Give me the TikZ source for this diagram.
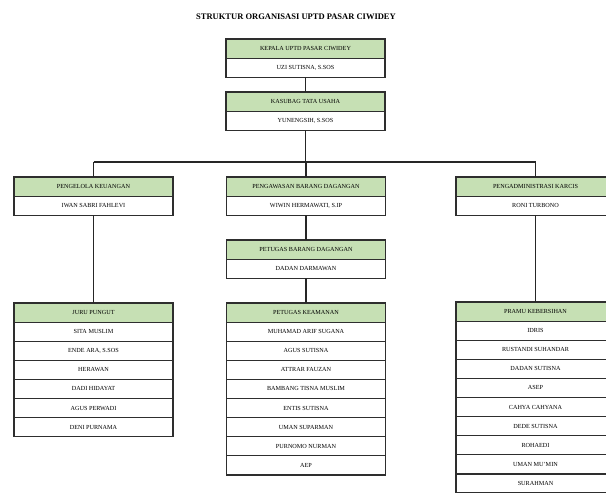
\documentclass[tikz,border=0pt]{standalone}
\usepackage{fontspec}
\setmainfont{Liberation Serif}
\definecolor{hdrgreen}{HTML}{C6E0B4}
\definecolor{edge}{HTML}{2E2E2E}
\begin{document}
\begin{tikzpicture}[x=1pt,y=-1pt,
  row/.style={draw=edge, line width=1.2pt, minimum width=159pt, minimum height=19.1pt,
    inner sep=0pt, outer sep=0pt, anchor=north, font=\fontsize{6.2}{7}\selectfont},
  hdr/.style={row, fill=hdrgreen},
  cell/.style={row, fill=white},
  link/.style={line width=1.5pt, draw=black!85}]
\useasboundingbox (0,0) rectangle (606,493);
\node[font=\fontsize{8.5}{10}\selectfont\bfseries] (title) at (296,17) {STRUKTUR ORGANISASI UPTD PASAR CIWIDEY};
\coordinate (bus) at (303,162);
% top boxes
\node[hdr] (k1) at (305.5,39) {KEPALA UPTD PASAR CIWIDEY};
\node[cell] (k2) at (k1.south) {UZI SUTISNA, S.SOS};
\node[hdr] (t1) at (305.5,92) {KASUBAG TATA USAHA};
\node[cell] (t2) at (t1.south) {YUNENGSIH, S.SOS};
% level 2
\node[hdr] (pk1) at (93.5,177) {PENGELOLA KEUANGAN};
\node[cell] (pk2) at (pk1.south) {IWAN SABRI FAHLEVI};
\node[hdr] (pb1) at (306,177) {PENGAWASAN BARANG DAGANGAN};
\node[cell] (pb2) at (pb1.south) {WIWIN HERMAWATI, S.IP};
\node[hdr] (pa1) at (535.5,177) {PENGADMINISTRASI KARCIS};
\node[cell] (pa2) at (pa1.south) {RONI TURBONO};
\node[hdr] (pd1) at (306,240) {PETUGAS BARANG DAGANGAN};
\node[cell] (pd2) at (pd1.south) {DADAN DARMAWAN};
% bottom left
\node[hdr] (jp0) at (93.5,303) {JURU PUNGUT};
\node[cell] (jp1) at (jp0.south) {SITA MUSLIM};
\node[cell] (jp2) at (jp1.south) {ENDE ARA, S.SOS};
\node[cell] (jp3) at (jp2.south) {HERAWAN};
\node[cell] (jp4) at (jp3.south) {DADI HIDAYAT};
\node[cell] (jp5) at (jp4.south) {AGUS PERWADI};
\node[cell] (jp6) at (jp5.south) {DENI PURNAMA};
% bottom middle
\node[hdr] (pm0) at (306,303) {PETUGAS KEAMANAN};
\node[cell] (pm1) at (pm0.south) {MUHAMAD ARIF SUGANA};
\node[cell] (pm2) at (pm1.south) {AGUS SUTISNA};
\node[cell] (pm3) at (pm2.south) {ATTRAR FAUZAN};
\node[cell] (pm4) at (pm3.south) {BAMBANG TISNA MUSLIM};
\node[cell] (pm5) at (pm4.south) {ENTIS SUTISNA};
\node[cell] (pm6) at (pm5.south) {UMAN SUPARMAN};
\node[cell] (pm7) at (pm6.south) {PURNOMO NURMAN};
\node[cell] (pm8) at (pm7.south) {AEP};
% bottom right
\node[hdr] (kb0) at (535.5,302) {PRAMU KEBERSIHAN};
\node[cell] (kb1) at (kb0.south) {IDRIS};
\node[cell] (kb2) at (kb1.south) {RUSTANDI SUHANDAR};
\node[cell] (kb3) at (kb2.south) {DADAN SUTISNA};
\node[cell] (kb4) at (kb3.south) {ASEP};
\node[cell] (kb5) at (kb4.south) {CAHYA CAHYANA};
\node[cell] (kb6) at (kb5.south) {DEDE SUTISNA};
\node[cell] (kb7) at (kb6.south) {ROHAEDI};
\node[cell] (kb8) at (kb7.south) {UMAN MU'MIN};
\node[cell, minimum height=18.5pt] (kb9) at (kb8.south) {SURAHMAN};
% connectors
\draw[link] (k2.south) -- (t1.north);
\draw[link] (t2.south) -- (t2.south |- bus);
\draw[link] (pk1.north |- bus) -- (pa1.north |- bus);
\draw[link] (pk1.north |- bus) -- (pk1.north);
\draw[link] (pb1.north |- bus) -- (pb1.north);
\draw[link] (pa1.north |- bus) -- (pa1.north);
\draw[link] (pk2.south) -- (jp0.north);
\draw[link] (pb2.south) -- (pd1.north);
\draw[link] (pd2.south) -- (pm0.north);
\draw[link] (pa2.south) -- (kb0.north);
\end{tikzpicture}
\end{document}
